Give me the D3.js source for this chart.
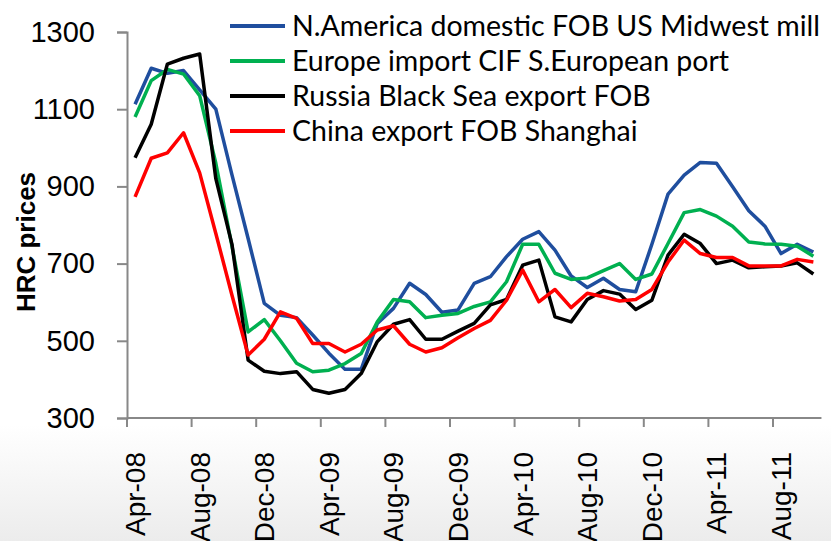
<!DOCTYPE html>
<html>
<head>
<meta charset="utf-8">
<script src="https://cdn.jsdelivr.net/npm/d3@7"></script>
<style>
  body { margin: 0; background: #fff; }
  svg text { font-family: "Liberation Sans", Arial, sans-serif; }
</style>
</head>
<body>
<div id="chart"></div>
<script>
// monthly categories Apr-08 .. Oct-11
const months = ['Jan','Feb','Mar','Apr','May','Jun','Jul','Aug','Sep','Oct','Nov','Dec']
let categories = []
for (let k = 0; k < 43; k++) {
    let m = (3 + k) % 12
    let yr = 8 + Math.floor((3 + k) / 12)
    categories.push(months[m] + '-' + String(yr).padStart(2, '0'))
}

const yTicks = [300, 500, 700, 900, 1100, 1300]

const seriesNames = [
    'N.America domestic FOB US Midwest mill',
    'Europe import CIF S.European port',
    'Russia Black Sea export FOB',
    'China export FOB Shanghai'
]
const seriesColors = ['#1f4e9e', '#00b050', '#000000', '#ff0000']

const naValues = [1113, 1206, 1193, 1200, 1150, 1100, 930, 765, 597, 566, 560, 515, 468, 426, 426,
    545, 584, 649, 620, 574, 580, 649, 666, 718, 763, 783, 735, 668, 638, 662,
    633, 627, 750, 880, 929, 962, 960, 899, 837, 797, 726, 750, 730]
const euValues = [1080, 1174, 1203, 1191, 1135, 960, 745, 523, 555, 500, 442, 420, 424, 441, 467,
    549, 607, 601, 560, 566, 571, 589, 601, 653, 750, 750, 675, 659, 663, 682,
    700, 659, 673, 752, 832, 840, 823, 797, 756, 751, 750, 745, 719]
const ruValues = [974, 1061, 1217, 1232, 1243, 920, 750, 450, 421, 415, 420, 374, 364, 374, 415,
    498, 543, 555, 504, 504, 525, 545, 593, 607, 696, 709, 562, 549, 607, 630,
    621, 581, 605, 722, 776, 752, 700, 709, 689, 692, 694, 702, 673]
const cnValues = [873, 973, 987, 1039, 935, 778, 618, 463, 504, 575, 558, 493, 493, 471, 491,
    528, 539, 491, 471, 482, 508, 532, 553, 605, 683, 601, 633, 586, 623, 614,
    603, 607, 633, 704, 761, 726, 716, 716, 694, 694, 694, 711, 704]

const allSeries = [naValues, euValues, ruValues, cnValues]

let svgWidth = 831
let svgHeight = 541
let padding = {'left': 127, 'right': 10, 'top': 32, 'bottom': 123}

let svg = d3.select('#chart').append('svg')
    .attr('width', svgWidth)
    .attr('height', svgHeight)

// faint grey shade at the bottom like the source image
let grad = svg.append('defs').append('linearGradient')
    .attr('id', 'bottomShade')
    .attr('x1', 0).attr('y1', 0).attr('x2', 0).attr('y2', 1)
grad.append('stop').attr('offset', '0%').attr('stop-color', '#ffffff')
grad.append('stop').attr('offset', '100%').attr('stop-color', '#ececec')
svg.append('rect')
    .attr('x', 0).attr('y', 425)
    .attr('width', svgWidth).attr('height', svgHeight - 425)
    .attr('fill', 'url(#bottomShade)')

let x = d3.scaleBand()
    .domain(categories)
    .range([padding.left, padding.left + 43 * 16.15])
    .padding(0)
let y = d3.scaleLinear()
    .domain([300, 1300])
    .range([svgHeight - padding.bottom, padding.top])

const axisColor = '#888888'

// y axis
let axis_y = d3.axisLeft(y)
    .tickValues(yTicks)
    .tickSize(10)
    .tickPadding(22)
    .tickFormat(d => d)
let gy = svg.append('g')
    .attr('transform', `translate(${padding.left}, 0)`)
    .call(axis_y)
gy.select('.domain').attr('stroke', axisColor).attr('stroke-width', 2)
gy.selectAll('.tick line').attr('stroke', axisColor).attr('stroke-width', 2)
gy.selectAll('.tick text')
    .attr('font-size', 29)
    .attr('fill', '#000')

// x axis: ticks on category boundaries every 4 months, labels centred
let tickCats = categories.filter((d, i) => i % 4 === 0)
let axis_x = d3.axisBottom(x)
    .tickValues(tickCats)
    .tickSize(9)
    .tickFormat('')
let gx = svg.append('g')
    .attr('transform', `translate(0, ${svgHeight - padding.bottom})`)
    .call(axis_x)
gx.selectAll('.tick').attr('transform', d => `translate(${x(d)}, 0)`)
gx.select('.domain')
    .attr('d', `M${x.range()[0]},0H${x.range()[1]}`)
    .attr('stroke', axisColor).attr('stroke-width', 2)
gx.selectAll('.tick line').attr('stroke', axisColor).attr('stroke-width', 2)

svg.append('g')
    .selectAll('text')
    .data(tickCats)
    .enter()
    .append('text')
    .attr('transform', d => `translate(${x(d) + x.bandwidth() / 2 + 10}, 452) rotate(-90)`)
    .attr('text-anchor', 'end')
    .attr('font-size', 28)
    .attr('fill', '#000')
    .text(d => d)

// y axis title
svg.append('text')
    .attr('transform', `translate(35, 242) rotate(-90)`)
    .attr('text-anchor', 'middle')
    .attr('font-size', 26)
    .attr('font-weight', 'bold')
    .attr('fill', '#000')
    .text('HRC prices')

// lines
let line = d3.line()
    .x((d, i) => x(categories[i]) + x.bandwidth() / 2)
    .y(d => y(d))

svg.append('g')
    .selectAll('path')
    .data(allSeries)
    .enter()
    .append('path')
    .attr('d', d => line(d))
    .attr('fill', 'none')
    .attr('stroke', (d, i) => seriesColors[i])
    .attr('stroke-width', 3.5)
    .attr('stroke-linejoin', 'round')

// legend
let legend = svg.append('g')
    .selectAll('g')
    .data(seriesNames)
    .enter()
    .append('g')
    .attr('transform', (d, i) => `translate(230, ${26 + i * 35})`)
legend.append('line')
    .attr('x1', 0).attr('x2', 55)
    .attr('y1', 0).attr('y2', 0)
    .attr('stroke', (d, i) => seriesColors[i])
    .attr('stroke-width', 4)
legend.append('text')
    .attr('x', 62)
    .attr('y', 0)
    .attr('dy', '0.35em')
    .attr('font-size', 28.5)
    .style('font-family', 'Lato, sans-serif')
    .attr('fill', '#000')
    .text(d => d)
</script>
</body>
</html>
